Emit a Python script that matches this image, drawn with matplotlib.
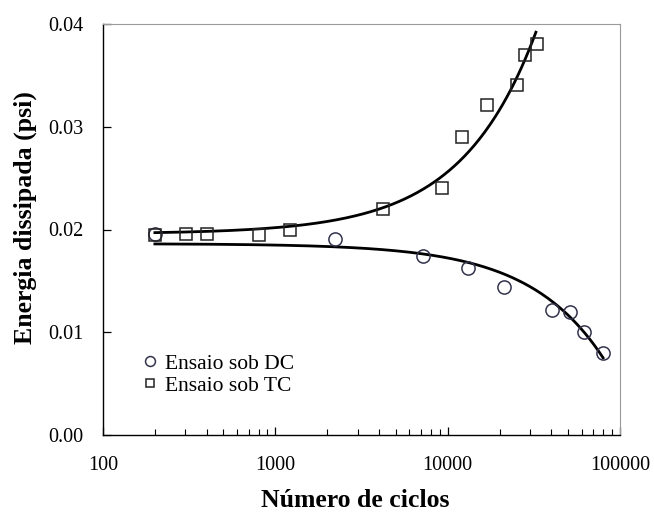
import numpy as np
import matplotlib
matplotlib.use("Agg")
import matplotlib.pyplot as plt
from matplotlib.ticker import FixedLocator, LogLocator, NullFormatter

# Ensaio sob DC (circles)
dc_ciclos = [200, 2220, 7190, 13100, 21200, 40300, 51300, 61900, 79800]
dc_energia = [0.0196, 0.0191, 0.0174, 0.0163, 0.0144, 0.0122, 0.0120, 0.0100, 0.0080]

# Ensaio sob TC (squares)
tc_ciclos = [200, 303, 402, 804, 1216, 4220, 9290, 12100, 16900, 25300, 28100, 33000]
tc_energia = [0.0195, 0.0196, 0.0196, 0.0195, 0.0200, 0.0220, 0.0240, 0.0290,
              0.0321, 0.0341, 0.0370, 0.0381]

x_ticks = [100, 1000, 10000, 100000]
x_labels = ["100", "1000", "10000", "100000"]
y_ticks = [0.00, 0.01, 0.02, 0.03, 0.04]
y_labels = ["0.00", "0.01", "0.02", "0.03", "0.04"]

plt.rcParams["font.family"] = ["Liberation Serif", "DejaVu Serif"]

fig = plt.figure(figsize=(6.54, 5.12), dpi=100)
ax = fig.add_axes([103 / 654, 1 - 435 / 512, 517 / 654, 411 / 512])

# linear trend lines (as in the spreadsheet), drawn on log axis
p_tc = np.polyfit(tc_ciclos, tc_energia, 1)
p_dc = np.polyfit(dc_ciclos, dc_energia, 1)
xt = np.logspace(np.log10(tc_ciclos[0]), np.log10(32500), 300)
xd = np.logspace(np.log10(dc_ciclos[0]), np.log10(dc_ciclos[-1]), 300)
ax.plot(xt, np.polyval(p_tc, xt), color="black", lw=2.0, zorder=2, clip_on=False)
ax.plot(xd, np.polyval(p_dc, xd), color="black", lw=2.0, zorder=2)

ax.plot(dc_ciclos, dc_energia, "o", ms=9.5, mfc="none", mec="#33334d", mew=1.1,
        label="Ensaio sob DC", zorder=3)
ax.plot(tc_ciclos, tc_energia, "s", ms=8, mfc="none", mec="#222222", mew=1.1,
        label="Ensaio sob TC", zorder=3)

ax.set_xscale("log")
ax.set_xlim(100, 100000)
ax.set_ylim(0, 0.04)
ax.xaxis.set_major_locator(FixedLocator(x_ticks))
ax.set_xticklabels(x_labels)
ax.xaxis.set_minor_locator(LogLocator(base=10, subs=np.arange(2, 10)))
ax.xaxis.set_minor_formatter(NullFormatter())
ax.set_yticks(y_ticks)
ax.set_yticklabels(y_labels)

ax.tick_params(axis="both", which="major", direction="in", length=6, width=0.9,
               labelsize=14.5, colors="black")
ax.tick_params(axis="x", which="major", pad=15)
ax.tick_params(axis="y", which="major", pad=14)
ax.tick_params(axis="x", which="minor", direction="in", length=4, width=0.8)
ax.tick_params(axis="y", which="minor", left=False)

for side in ["top", "right"]:
    ax.spines[side].set_color("#9a9a9a")
for side in ["left", "bottom"]:
    ax.spines[side].set_color("black")
    ax.spines[side].set_linewidth(1.0)

ax.set_xlabel("Número de ciclos", fontsize=18.5, fontweight="bold")
ax.xaxis.set_label_coords(0.488, -0.132)
ax.set_ylabel("Energia dissipada (psi)", fontsize=18.5, fontweight="bold")
ax.yaxis.set_label_coords(-0.128, 0.53)

ax.legend(loc="center left", bbox_to_anchor=(0.074, 0.147), frameon=False, fontsize=15.5,
          markerscale=0.75, handlelength=0.8, handletextpad=0.3, labelspacing=0.1,
          borderpad=0, borderaxespad=0)

fig.savefig("out.png", dpi=100)
